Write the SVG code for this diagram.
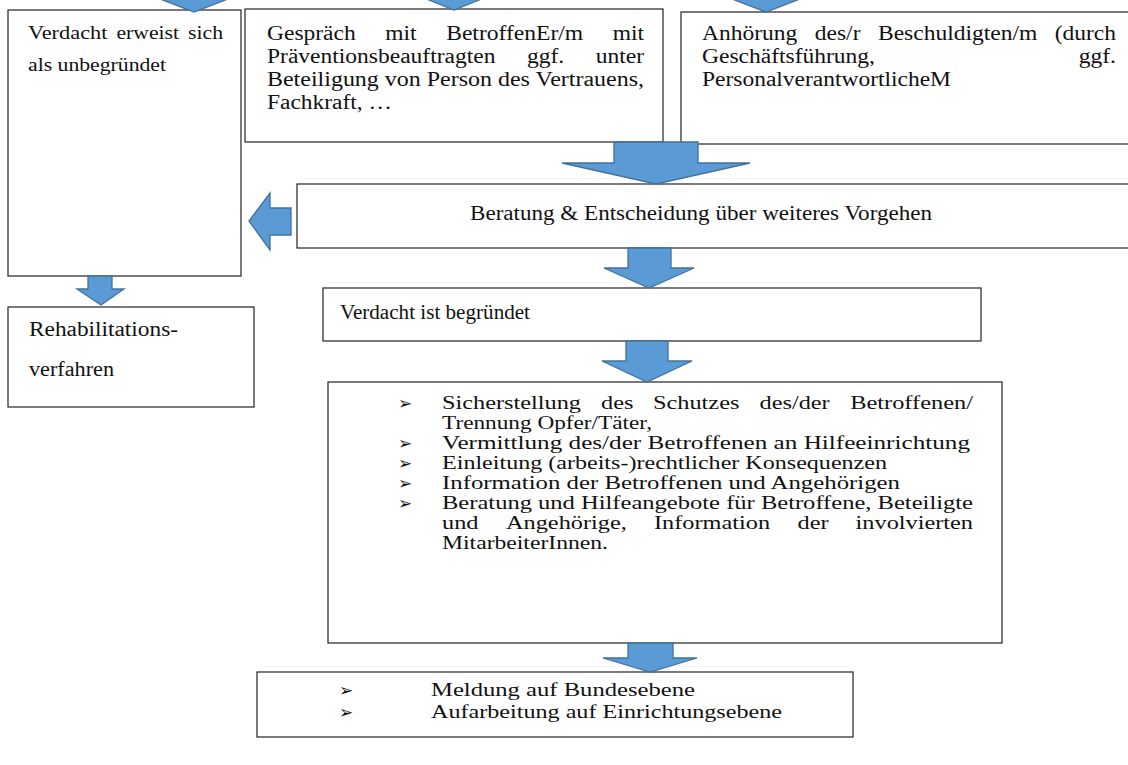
<svg xmlns="http://www.w3.org/2000/svg" width="1128" height="765" viewBox="0 0 1128 765">
<style>
.box{fill:#fff;stroke:#222;stroke-width:1.2}
.arr{fill:#5B9BD5;stroke:#41719C;stroke-width:1.3;stroke-linejoin:miter}
.t{font-family:"Liberation Serif","Times New Roman",serif;font-size:20px;fill:#111}
.s{font-size:19px}
.l{font-size:18px}
.b{font-family:"DejaVu Sans",sans-serif;font-size:17px;fill:#111}
</style>
<rect width="1128" height="765" fill="#fff"/>
<g id="n1"><rect class="box" x="8" y="10" width="233" height="266"/>
<text class="t s" x="28" y="39" textLength="79.5" lengthAdjust="spacingAndGlyphs">Verdacht</text>
<text class="t s" x="116.4" y="39" textLength="62.7" lengthAdjust="spacingAndGlyphs">erweist</text>
<text class="t s" x="188" y="39" textLength="35" lengthAdjust="spacingAndGlyphs">sich</text>
<text class="t s" x="28" y="71" textLength="138" lengthAdjust="spacingAndGlyphs">als unbegründet</text>
</g>
<g id="n2"><rect class="box" x="245" y="9" width="418" height="133"/>
<text class="t" x="267" y="40" textLength="88.7" lengthAdjust="spacingAndGlyphs">Gespräch</text>
<text class="t" x="385.3" y="40" textLength="31.3" lengthAdjust="spacingAndGlyphs">mit</text>
<text class="t" x="446.2" y="40" textLength="137" lengthAdjust="spacingAndGlyphs">BetroffenEr/m</text>
<text class="t" x="612.7" y="40" textLength="31.3" lengthAdjust="spacingAndGlyphs">mit</text>
<text class="t" x="267" y="63" textLength="228.4" lengthAdjust="spacingAndGlyphs">Präventionsbeauftragten</text>
<text class="t" x="526.9" y="63" textLength="37.2" lengthAdjust="spacingAndGlyphs">ggf.</text>
<text class="t" x="595.7" y="63" textLength="48.3" lengthAdjust="spacingAndGlyphs">unter</text>
<text class="t" x="267" y="86" textLength="377" lengthAdjust="spacingAndGlyphs">Beteiligung von Person des Vertrauens,</text>
<text class="t" x="267" y="109" textLength="125" lengthAdjust="spacingAndGlyphs">Fachkraft, …</text>
</g>
<g id="n3"><rect class="box" x="681" y="12" width="460" height="132"/>
<text class="t" x="702" y="40" textLength="95.3" lengthAdjust="spacingAndGlyphs">Anhörung</text>
<text class="t" x="814.8" y="40" textLength="45.7" lengthAdjust="spacingAndGlyphs">des/r</text>
<text class="t" x="878" y="40" textLength="159.3" lengthAdjust="spacingAndGlyphs">Beschuldigten/m</text>
<text class="t" x="1054.7" y="40" textLength="61.3" lengthAdjust="spacingAndGlyphs">(durch</text>
<text class="t" x="702" y="63" textLength="173" lengthAdjust="spacingAndGlyphs">Geschäftsführung,</text>
<text class="t" x="1078.8" y="63" textLength="37.2" lengthAdjust="spacingAndGlyphs">ggf.</text>
<text class="t" x="702" y="86" textLength="249" lengthAdjust="spacingAndGlyphs">PersonalverantwortlicheM</text>
</g>
<g id="n4"><rect class="box" x="297" y="184" width="840" height="64"/>
<text class="t" x="470" y="220" textLength="462" lengthAdjust="spacingAndGlyphs">Beratung &amp; Entscheidung über weiteres Vorgehen</text>
</g>
<g id="n5"><rect class="box" x="8" y="307" width="246" height="100"/>
<text class="t" x="29" y="336" textLength="149" lengthAdjust="spacingAndGlyphs">Rehabilitations-</text>
<text class="t" x="29" y="376" textLength="85" lengthAdjust="spacingAndGlyphs">verfahren</text>
</g>
<g id="n6"><rect class="box" x="323" y="288" width="658" height="53"/>
<text class="t" x="340" y="319" textLength="190" lengthAdjust="spacingAndGlyphs">Verdacht ist begründet</text>
</g>
<g id="n7"><rect class="box" x="328" y="382" width="674" height="261"/>
<text class="b" x="398" y="409">➢</text>
<text class="b" x="398" y="449">➢</text>
<text class="b" x="398" y="469">➢</text>
<text class="b" x="398" y="489">➢</text>
<text class="b" x="398" y="509">➢</text>
<text class="t l" x="442" y="409" textLength="139" lengthAdjust="spacingAndGlyphs">Sicherstellung</text>
<text class="t l" x="601" y="409" textLength="32.4" lengthAdjust="spacingAndGlyphs">des</text>
<text class="t l" x="653" y="409" textLength="86.4" lengthAdjust="spacingAndGlyphs">Schutzes</text>
<text class="t l" x="759.5" y="409" textLength="70.2" lengthAdjust="spacingAndGlyphs">des/der</text>
<text class="t l" x="850.2" y="409" textLength="122.8" lengthAdjust="spacingAndGlyphs">Betroffenen/</text>
<text class="t l" x="442" y="429" textLength="210" lengthAdjust="spacingAndGlyphs">Trennung Opfer/Täter,</text>
<text class="t l" x="442" y="449" textLength="528" lengthAdjust="spacingAndGlyphs">Vermittlung des/der Betroffenen an Hilfeeinrichtung</text>
<text class="t l" x="442" y="469" textLength="445" lengthAdjust="spacingAndGlyphs">Einleitung (arbeits-)rechtlicher Konsequenzen</text>
<text class="t l" x="442" y="489" textLength="458" lengthAdjust="spacingAndGlyphs">Information der Betroffenen und Angehörigen</text>
<text class="t l" x="442" y="509" textLength="531" lengthAdjust="spacingAndGlyphs">Beratung und Hilfeangebote für Betroffene, Beteiligte</text>
<text class="t l" x="442" y="529" textLength="36.5" lengthAdjust="spacingAndGlyphs">und</text>
<text class="t l" x="506" y="529" textLength="120.8" lengthAdjust="spacingAndGlyphs">Angehörige,</text>
<text class="t l" x="654" y="529" textLength="116.1" lengthAdjust="spacingAndGlyphs">Information</text>
<text class="t l" x="797.5" y="529" textLength="31" lengthAdjust="spacingAndGlyphs">der</text>
<text class="t l" x="855.6" y="529" textLength="117.4" lengthAdjust="spacingAndGlyphs">involvierten</text>
<text class="t l" x="442" y="549" textLength="166" lengthAdjust="spacingAndGlyphs">MitarbeiterInnen.</text>
</g>
<g id="n8"><rect class="box" x="257" y="672" width="596" height="65"/>
<text class="b" x="339" y="696">➢</text>
<text class="b" x="339" y="718">➢</text>
<text class="t l" x="431" y="696" textLength="264" lengthAdjust="spacingAndGlyphs">Meldung auf Bundesebene</text>
<text class="t l" x="431" y="718" textLength="351" lengthAdjust="spacingAndGlyphs">Aufarbeitung auf Einrichtungsebene</text>
</g>
<g id="connectors">
<polygon class="arr" points="174,-40 214,-40 214,-6 241,-6 194,12 147,-6 174,-6"/>
<polygon class="arr" points="436,-40 472,-40 472,-6 494,-6 454,10 414,-6 436,-6"/>
<polygon class="arr" points="746,-40 786,-40 786,-6 813,-6 766,12 719,-6 746,-6"/>
<polygon class="arr" points="614,142 698,142 698,163 750,163 656,184 562,163 614,163"/>
<polygon class="arr" points="291,208 291,235 270,235 270,250 249,221 270,193 270,208"/>
<polygon class="arr" points="88,276 112,276 112,289 124,289 101,305 77,289 88,289"/>
<polygon class="arr" points="628,248 671,248 671,268 694,268 649,288 604,268 628,268"/>
<polygon class="arr" points="626,341 668,341 668,361 692,361 647,382 602,361 626,361"/>
<polygon class="arr" points="628,643 673,643 673,658 697,658 650,672 603,658 628,658"/>
</g>
</svg>
